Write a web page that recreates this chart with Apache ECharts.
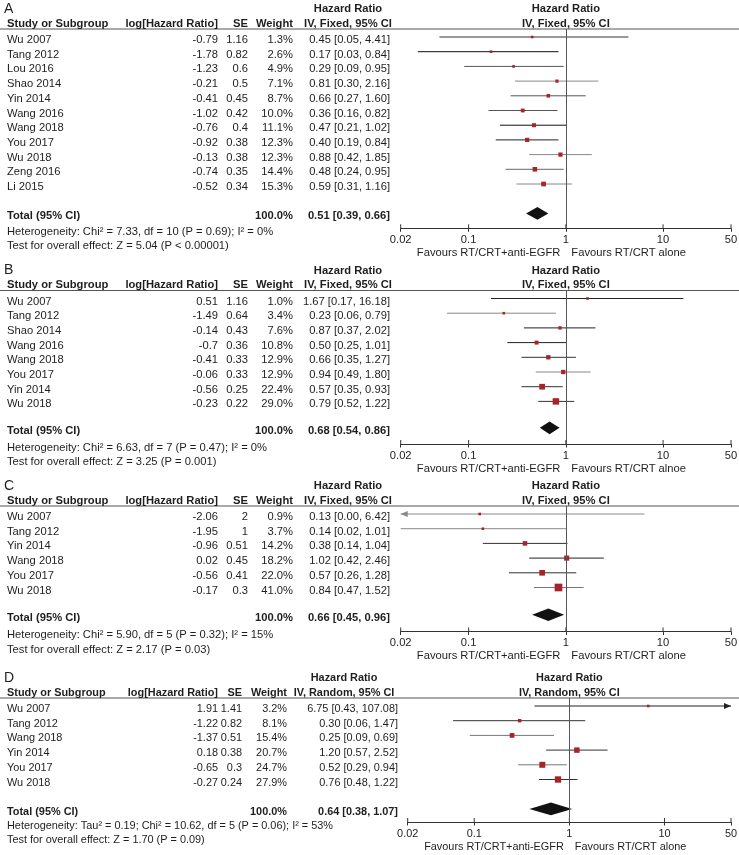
<!DOCTYPE html>
<html><head><meta charset="utf-8">
<script src="https://cdn.jsdelivr.net/npm/echarts@6/dist/echarts.min.js"></script>
<style>html,body{margin:0;padding:0;background:#fff}#c{width:739px;height:855px}</style>
</head><body><div id="c"></div>
<script>
// ---------- Panel A ----------
const studiesA = ['Wu 2007','Tang 2012','Lou 2016','Shao 2014','Yin 2014','Wang 2016','Wang 2018','You 2017','Wu 2018','Zeng 2016','Li 2015'];
const logHrA = [-0.79,-1.78,-1.23,-0.21,-0.41,-1.02,-0.76,-0.92,-0.13,-0.74,-0.52];
const seA = [1.16,0.82,0.6,0.5,0.45,0.42,0.4,0.38,0.38,0.35,0.34];
const weightA = [1.3,2.6,4.9,7.1,8.7,10.0,11.1,12.3,12.3,14.4,15.3];
const hrA = [0.45,0.17,0.29,0.81,0.66,0.36,0.47,0.40,0.88,0.48,0.59];
const loA = [0.05,0.03,0.09,0.30,0.27,0.16,0.21,0.19,0.42,0.24,0.31];
const hiA = [4.41,0.84,0.95,2.16,1.60,0.82,1.02,0.84,1.85,0.95,1.16];
const totalA = [0.51,0.39,0.66];
const hetA = 'Heterogeneity: Chi² = 7.33, df = 10 (P = 0.69); I² = 0%';
const testA = 'Test for overall effect: Z = 5.04 (P < 0.00001)';
// ---------- Panel B ----------
const studiesB = ['Wu 2007','Tang 2012','Shao 2014','Wang 2016','Wang 2018','You 2017','Yin 2014','Wu 2018'];
const logHrB = [0.51,-1.49,-0.14,-0.7,-0.41,-0.06,-0.56,-0.23];
const seB = [1.16,0.64,0.43,0.36,0.33,0.33,0.25,0.22];
const weightB = [1.0,3.4,7.6,10.8,12.9,12.9,22.4,29.0];
const hrB = [1.67,0.23,0.87,0.50,0.66,0.94,0.57,0.79];
const loB = [0.17,0.06,0.37,0.25,0.35,0.49,0.35,0.52];
const hiB = [16.18,0.79,2.02,1.01,1.27,1.80,0.93,1.22];
const totalB = [0.68,0.54,0.86];
const hetB = 'Heterogeneity: Chi² = 6.63, df = 7 (P = 0.47); I² = 0%';
const testB = 'Test for overall effect: Z = 3.25 (P = 0.001)';
// ---------- Panel C ----------
const studiesC = ['Wu 2007','Tang 2012','Yin 2014','Wang 2018','You 2017','Wu 2018'];
const logHrC = [-2.06,-1.95,-0.96,0.02,-0.56,-0.17];
const seC = [2,1,0.51,0.45,0.41,0.3];
const weightC = [0.9,3.7,14.2,18.2,22.0,41.0];
const hrC = [0.13,0.14,0.38,1.02,0.57,0.84];
const loC = [0.00,0.02,0.14,0.42,0.26,0.47];
const hiC = [6.42,1.01,1.04,2.46,1.28,1.52];
const totalC = [0.66,0.45,0.96];
const hetC = 'Heterogeneity: Chi² = 5.90, df = 5 (P = 0.32); I² = 15%';
const testC = 'Test for overall effect: Z = 2.17 (P = 0.03)';
// ---------- Panel D ----------
const studiesD = ['Wu 2007','Tang 2012','Wang 2018','Yin 2014','You 2017','Wu 2018'];
const logHrD = [1.91,-1.22,-1.37,0.18,-0.65,-0.27];
const seD = [1.41,0.82,0.51,0.38,0.3,0.24];
const weightD = [3.2,8.1,15.4,20.7,24.7,27.9];
const hrD = [6.75,0.30,0.25,1.20,0.52,0.76];
const loD = [0.43,0.06,0.09,0.57,0.29,0.48];
const hiD = [107.08,1.47,0.69,2.52,0.94,1.22];
const totalD = [0.64,0.38,1.07];
const hetD = 'Heterogeneity: Tau² = 0.19; Chi² = 10.62, df = 5 (P = 0.06); I² = 53%';
const testD = 'Test for overall effect: Z = 1.70 (P = 0.09)';

const axisTicks = [0.02, 0.1, 1, 10, 50];
const favLeft = 'Favours RT/CRT+anti-EGFR';
const favRight = ['Favours RT/CRT alone','Favours RT/CRT alnoe','Favours RT/CRT alone','Favours RT/CRT alone'];
const labels = ['A','B','C','D'];
const methods = ['IV, Fixed, 95% CI','IV, Fixed, 95% CI','IV, Fixed, 95% CI','IV, Random, 95% CI'];

const panels = [
  {studies:studiesA, logHr:logHrA, se:seA, weight:weightA, hr:hrA, lo:loA, hi:hiA, total:totalA, het:hetA, test:testA},
  {studies:studiesB, logHr:logHrB, se:seB, weight:weightB, hr:hrB, lo:loB, hi:hiB, total:totalB, het:hetB, test:testB},
  {studies:studiesC, logHr:logHrC, se:seC, weight:weightC, hr:hrC, lo:loC, hi:hiC, total:totalC, het:hetC, test:testC},
  {studies:studiesD, logHr:logHrD, se:seD, weight:weightD, hr:hrD, lo:loD, hi:hiD, total:totalD, het:hetD, test:testD}
];

// ---------- layout (pixels) & styles ----------
const layouts = [
  {y0:37,    step:14.7, totalIdx:12,   axisY:228.3, left:400.7, right:731, logR:218, seR:248, wR:293, hrR:390, hrC:348, fs:11.2},
  {y0:298.5, step:14.7, totalIdx:8.8,  axisY:444,   left:400.7, right:731, logR:218, seR:248, wR:293, hrR:390, hrC:348, fs:11.2},
  {y0:514,   step:14.7, totalIdx:6.85, axisY:631.5, left:400.7, right:731, logR:218, seR:248, wR:293, hrR:390, hrC:348, fs:11.2},
  {y0:706,   step:14.7, totalIdx:7,    axisY:822,   left:407.7, right:731, logR:218, seR:242, wR:287, hrR:398, hrC:344, fs:10.9}
];
const lineCols = [
  ['#333','#111','#555','#888','#555','#555','#111','#222','#888','#666','#888'],
  ['#222','#888','#222','#222','#333','#888','#333','#333'],
  ['#888','#888','#333','#222','#333','#777'],
  ['#222','#333','#777','#333','#777','#333']
];
const FONT = '"Liberation Sans", Arial, Helvetica, sans-serif';
const TXT = '#1e1e1e';
const RED = '#a82229';
const XMIN = 0.02, XMAX = 50;

const f2 = v => v.toFixed(2);
const hrText = (h,l,u) => f2(h)+' ['+f2(l)+', '+f2(u)+']';
const fmtTick = v => String(Math.round(v*1000)/1000);

const chart = echarts.init(document.getElementById('c'), null, {renderer:'canvas'});
const grids = [], xAxes = [], yAxes = [], series = [];

panels.forEach((P, p) => {
  const L = layouts[p];
  const FS = L.fs;
  const top = L.y0 - 8;
  const yMin = (top - L.y0) / L.step;
  const yMax = (L.axisY - L.y0) / L.step;
  grids.push({left:L.left, width:L.right - L.left, top:top, height:L.axisY - top, containLabel:false, outerBoundsMode:'none'});
  xAxes.push({
    type:'log', logBase:10, gridIndex:p, min:XMIN, max:XMAX, position:'bottom',
    axisLine:{show:true, onZero:false, lineStyle:{color:'#333', width:1}},
    axisTick:{show:true, inside:false, length:3.5, lineStyle:{color:'#333', width:1}},
    axisLabel:{show:true, margin:6, fontSize:FS, color:TXT, fontFamily:FONT, formatter:fmtTick},
    splitLine:{show:false}, minorTick:{show:false}
  });
  yAxes.push({type:'value', gridIndex:p, inverse:true, min:yMin, max:yMax, show:false, splitLine:{show:false},
    axisLine:{show:false, onZero:false}});

  // upward half of the axis ticks
  series.push({
    type:'custom', xAxisIndex:p, yAxisIndex:p, silent:true, z:2, clip:false,
    data: axisTicks.map(v => [v, yMax]),
    renderItem: (params, api) => {
      const c = api.coord([api.value(0), api.value(1)]);
      return {type:'line', shape:{x1:c[0], y1:c[1], x2:c[0], y2:c[1]-4}, style:{stroke:'#333', lineWidth:1}};
    }
  });
  // confidence intervals
  series.push({
    type:'custom', xAxisIndex:p, yAxisIndex:p, silent:true, z:2, clip:false,
    data: P.hr.map((h,i) => [h, i, P.lo[i], P.hi[i]]),
    renderItem: (params, api) => {
      const i = api.value(1), lo = api.value(2), hi = api.value(3);
      const a = api.coord([Math.max(lo, XMIN), i]);
      const b = api.coord([Math.min(hi, XMAX), i]);
      const col = lineCols[p][params.dataIndex];
      const ch = [{type:'line', shape:{x1:a[0], y1:a[1], x2:b[0], y2:b[1]}, style:{stroke:col, lineWidth:1}}];
      if (lo < XMIN) ch.push({type:'polygon', shape:{points:[[a[0],a[1]],[a[0]+7,a[1]-3],[a[0]+7,a[1]+3]]}, style:{fill:col}});
      if (hi > XMAX) ch.push({type:'polygon', shape:{points:[[b[0],b[1]],[b[0]-7,b[1]-3],[b[0]-7,b[1]+3]]}, style:{fill:col}});
      return {type:'group', children:ch};
    }
  });
  // point estimates
  series.push({
    type:'scatter', xAxisIndex:p, yAxisIndex:p, silent:true, z:3, symbol:'rect',
    data: P.hr.map((h,i) => [h, i]),
    symbolSize: (v, prm) => Math.max(2.6, 1.2*Math.sqrt(P.weight[prm.dataIndex])),
    itemStyle:{color:RED, opacity:1},
    markLine:{silent:true, symbol:['none','none'], label:{show:false}, animation:false,
      lineStyle:{color:'#555', width:1, type:'solid'}, emphasis:{disabled:true},
      data:[{xAxis:1}]}
  });
  // pooled diamond
  series.push({
    type:'custom', xAxisIndex:p, yAxisIndex:p, silent:true, z:3, clip:false,
    data: [[P.total[0], L.totalIdx, P.total[1], P.total[2]]],
    renderItem: (params, api) => {
      const t = api.value(1);
      const c = api.coord([api.value(0), t]);
      const l = api.coord([api.value(2), t]);
      const r = api.coord([api.value(3), t]);
      const hh = 6.3;
      return {type:'polygon', shape:{points:[[l[0],c[1]],[c[0],c[1]-hh],[r[0],c[1]],[c[0],c[1]+hh]]}, style:{fill:'#111'}};
    }
  });
  // table text
  series.push({
    type:'custom', xAxisIndex:p, yAxisIndex:p, silent:true, z:5, clip:false,
    data: [[1, 0]],
    renderItem: (params, api) => {
      const cx = api.coord([1, 0])[0];
      const ry = i => api.coord([1, i])[1];
      const y0 = ry(0), topY = ry(yMin), axY = ry(yMax);
      const T = (text, x, y, align, bold, size) => ({type:'text', x:x, y:y, silent:true,
        style:{text:text, fill:TXT, fontFamily:FONT, fontSize:size||FS, fontWeight:bold?'bold':'normal', align:align, verticalAlign:'middle'}});
      const ch = [];
      ch.push({type:'line', shape:{x1:0, y1:topY, x2:739, y2:topY}, style:{stroke:'#555', lineWidth:1}});
      const h1 = y0 - 28, h2 = y0 - 13.5;
      ch.push(T(labels[p], 4, h1, 'left', false, 14));
      ch.push(T('Hazard Ratio', L.hrC, h1, 'center', true));
      ch.push(T('Hazard Ratio', cx, h1, 'center', true));
      ch.push(T('Study or Subgroup', 7, h2, 'left', true));
      ch.push(T('log[Hazard Ratio]', L.logR, h2, 'right', true));
      ch.push(T('SE', L.seR, h2, 'right', true));
      ch.push(T('Weight', L.wR, h2, 'right', true));
      ch.push(T(methods[p], L.hrC, h2, 'center', true));
      ch.push(T(methods[p], cx, h2, 'center', true));
      P.studies.forEach((s, i) => {
        const y = ry(i) + 3;
        ch.push(T(s, 7, y, 'left'));
        ch.push(T(String(P.logHr[i]), L.logR, y, 'right'));
        ch.push(T(String(P.se[i]), L.seR, y, 'right'));
        ch.push(T(P.weight[i].toFixed(1) + '%', L.wR, y, 'right'));
        ch.push(T(hrText(P.hr[i], P.lo[i], P.hi[i]), L.hrR, y, 'right'));
      });
      const ty = ry(L.totalIdx) + 3;
      ch.push(T('Total (95% CI)', 7, ty, 'left', true));
      ch.push(T('100.0%', L.wR, ty, 'right', true));
      ch.push(T(hrText(P.total[0], P.total[1], P.total[2]), L.hrR, ty, 'right', true));
      ch.push(T(P.het, 7, axY + 3.5, 'left'));
      ch.push(T(P.test, 7, axY + 18, 'left'));
      ch.push(T(favLeft, cx - 5.5, axY + 24.5, 'right'));
      ch.push(T(favRight[p], cx + 5.5, axY + 24.5, 'left'));
      return {type:'group', children:ch};
    }
  });
});

chart.setOption({
  animation:false,
  backgroundColor:'#ffffff',
  grid:grids, xAxis:xAxes, yAxis:yAxes, series:series
});
</script>
</body></html>
